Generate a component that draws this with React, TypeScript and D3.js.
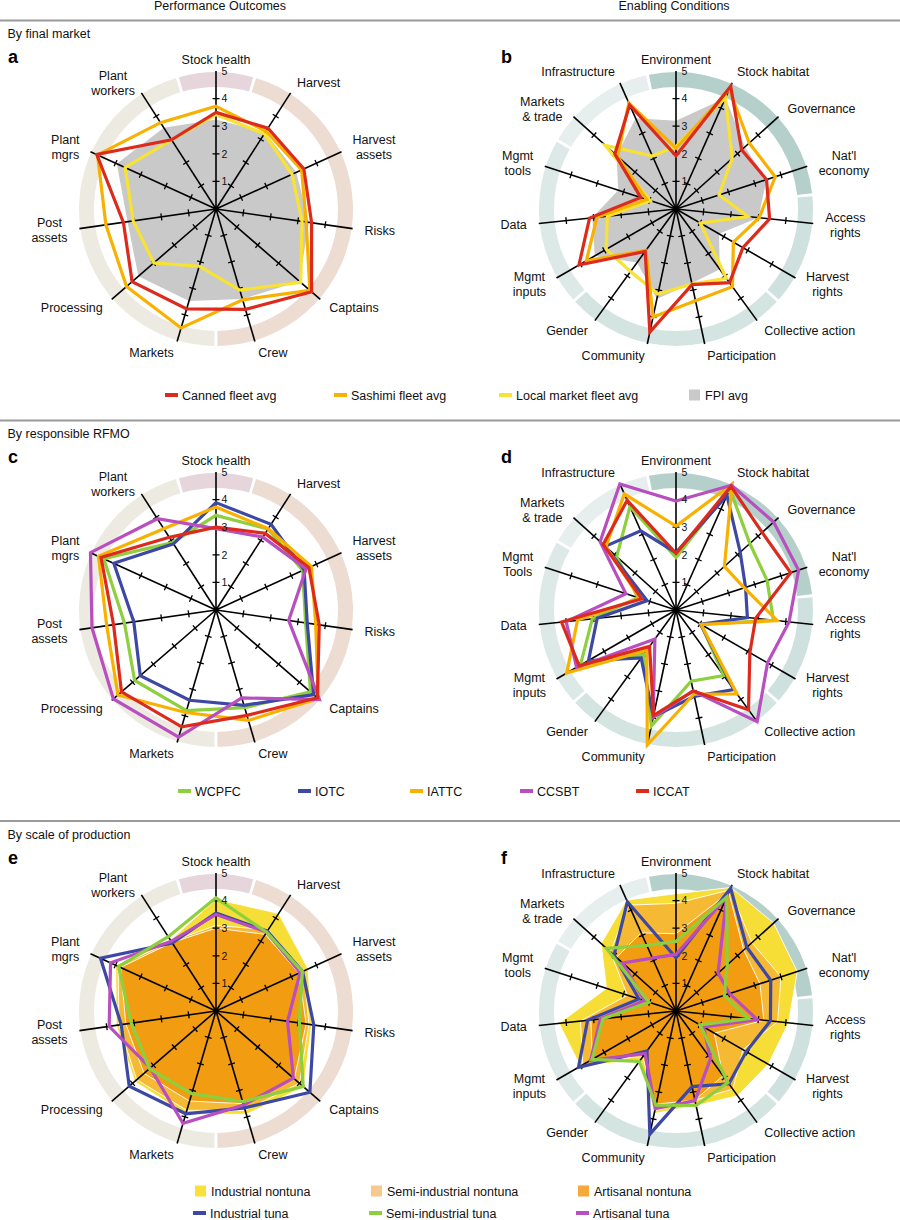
import React from "react";
import * as d3 from "d3";

// ---- axes ----
const outcomeAxes = ["Stock health", "Harvest", "Harvest\nassets", "Risks", "Captains", "Crew", "Markets", "Processing", "Post\nassets", "Plant\nmgrs", "Plant\nworkers"];
const conditionAxes = ["Environment", "Stock habitat", "Governance", "Nat'l\neconomy", "Access\nrights", "Harvest\nrights", "Collective action", "Participation", "Community", "Gender", "Mgmt\ninputs", "Data", "Mgmt\ntools", "Markets\n& trade", "Infrastructure"];
const conditionAxesD = conditionAxes.map((a) => (a === "Mgmt\ntools" ? "Mgmt\nTools" : a));

// ring groups, as ranges of axis indices
const outcomeGroups = [[0, 0], [1, 5], [6, 10]];
const conditionGroups = [[0, 3], [4, 5], [6, 9], [10, 12], [13, 14]];

// ---- a: by final market (outcomes) ----
const aCanned = [3.5, 3.48, 3.5, 3.5, 4.58, 3.79, 3.77, 4.02, 3.39, 4.75, 2.98];
const aSashimi = [3.72, 3.35, 3.41, 3.3, 4.5, 3.43, 4.49, 4.29, 4.03, 4.72, 3.72];
const aLocal = [3.42, 3.24, 3.03, 3.15, 4.06, 3.06, 2.16, 2.98, 3.03, 3.62, 2.98];
const aFpi = [3.24, 3.3, 3.2, 3.4, 4.0, 3.4, 3.47, 3.72, 3.24, 3.95, 3.5];

// ---- b: by final market (conditions) ----
const bCanned = [1.93, 4.87, 3.2, 3.45, 3.41, 2.8, 3.3, 2.8, 4.56, 1.9, 4.06, 3.15, 1.34, 2.98, 4.13];
const bSashimi = [2.2, 4.75, 3.57, 3.78, 3.03, 2.4, 3.48, 3.4, 4.0, 1.85, 3.75, 2.88, 1.12, 2.85, 4.2];
const bLocal = [2.27, 4.41, 2.74, 1.64, 2.62, 1.02, 3.1, 2.78, 3.15, 2.8, 2.92, 2.5, 0.98, 3.45, 2.1];
const bFpi = [3.2, 4.4, 3.36, 3.45, 3.0, 1.8, 2.7, 2.75, 3.33, 2.4, 3.4, 3.05, 2.2, 2.9, 3.6];

// ---- c: by RFMO (outcomes) ----
const cWcpfc = [3.43, 3.49, 3.45, 3.28, 4.53, 3.69, 3.8, 3.9, 3.35, 4.47, 2.91];
const cIotc = [3.89, 3.69, 3.51, 3.34, 4.68, 3.6, 3.41, 3.63, 3.01, 4.07, 2.85];
const cIattc = [3.73, 3.5, 3.8, 3.65, 4.9, 4.17, 3.87, 4.7, 4.0, 4.68, 3.5];
const cCcsbt = [2.95, 3.14, 3.59, 2.66, 4.96, 3.32, 4.8, 4.92, 4.54, 5.0, 3.93];
const cIccat = [3.0, 3.3, 3.7, 3.78, 4.86, 3.98, 4.41, 4.53, 3.75, 4.58, 3.13];

// ---- d: by RFMO (conditions) ----
const dWcpfc = [1.9, 4.8, 3.6, 3.47, 3.55, 1.05, 2.94, 2.64, 4.3, 2.0, 4.0, 3.05, 1.45, 2.89, 4.1];
const dIotc = [2.08, 4.54, 3.13, 2.65, 2.6, 1.03, 3.56, 3.2, 3.95, 2.15, 3.66, 2.87, 1.1, 3.45, 3.14];
const dIattc = [3.04, 5.0, 2.36, 2.6, 3.69, 1.05, 3.76, 3.12, 5.0, 1.8, 4.57, 3.59, 1.38, 3.42, 4.6];
const dCcsbt = [3.95, 4.95, 4.76, 4.67, 4.12, 3.83, 5.0, 3.0, 3.98, 1.3, 4.16, 4.0, 1.91, 3.7, 5.0];
const dIccat = [2.05, 4.9, 4.2, 4.37, 2.9, 3.09, 4.47, 3.0, 3.9, 1.63, 4.05, 4.17, 1.3, 3.55, 4.35];

// ---- e: by scale (outcomes) ----
const eIndNon = [4.05, 4.2, 3.67, 3.5, 4.2, 3.9, 3.9, 3.9, 3.65, 4.0, 3.05];
const eSemiNon = [3.1, 3.5, 3.5, 3.4, 4.0, 3.75, 3.75, 3.8, 3.55, 3.9, 3.0];
const eArtNon = [3.0, 3.3, 3.3, 3.3, 3.75, 3.5, 3.4, 3.45, 3.3, 3.8, 2.95];
const eIndTuna = [3.55, 3.44, 3.45, 3.58, 4.5, 3.66, 3.88, 4.16, 3.47, 4.6, 2.93];
const eSemiTuna = [4.1, 3.39, 3.44, 3.05, 4.18, 3.42, 3.12, 3.19, 3.1, 3.88, 3.2];
const eArtTuna = [3.5, 3.4, 3.35, 2.62, 3.71, 3.55, 4.24, 3.15, 3.91, 4.2, 3.0];

// ---- f: by scale (conditions) ----
const fIndNon = [4.25, 4.9, 4.76, 4.62, 4.1, 3.86, 3.8, 3.5, 3.8, 2.2, 4.0, 4.26, 2.65, 3.65, 4.4];
const fSemiNon = [3.9, 4.8, 3.7, 4.0, 3.7, 2.8, 3.5, 3.3, 3.7, 2.0, 3.9, 3.48, 1.85, 3.2, 4.2];
const fArtNon = [2.8, 4.7, 3.3, 3.2, 3.2, 1.6, 2.9, 3.3, 3.45, 2.05, 3.5, 3.1, 1.35, 2.9, 3.1];
const fIndTuna = [1.93, 4.87, 3.45, 3.61, 3.44, 2.94, 3.26, 2.8, 4.56, 1.79, 4.08, 3.22, 1.41, 3.02, 4.33];
const fSemiTuna = [2.52, 4.52, 2.5, 1.84, 2.64, 1.0, 3.2, 3.5, 3.49, 2.26, 3.51, 2.66, 1.03, 3.39, 2.6];
const fArtTuna = [2.05, 4.5, 2.05, 2.04, 2.96, 1.15, 2.13, 3.32, 3.62, 1.9, 3.57, 2.76, 1.2, 2.6, 2.1];

const tickValues = [1, 2, 3, 4, 5];

// ---- legend labels ----
const marketNames = ["Canned fleet avg", "Sashimi fleet avg", "Local market fleet avg", "FPI avg"];
const rfmoNames = ["WCPFC", "IOTC", "IATTC", "CCSBT", "ICCAT"];
const scaleFillNames = ["Industrial nontuna", "Semi-industrial nontuna", "Artisanal nontuna"];
const scaleLineNames = ["Industrial tuna", "Semi-industrial tuna", "Artisanal tuna"];

// ---- styles ----
const FONT = "'Liberation Sans', Arial, Helvetica, sans-serif";
const RED = "#dc2b1d";
const ORANGE = "#f9b100";
const YELLOW = "#f8e232";
const GRAY = "#c9c9c9";
const GREEN = "#8dcf3d";
const BLUE = "#3d48a4";
const PURPLE = "#b84ebf";
const IND_NON = "#f6de36";
const SEMI_NON = "#f5b934";
const ART_NON = "#f29c12";
const outcomeRing = ["#e6d6dc", "#eddcd1", "#edebe1"];
const conditionRing = ["#b5cfcb", "#cfe1de", "#d3e4e1", "#dde9e7", "#e6efee"];

const R5 = 138;
const LABEL_R = 150;
const rScale = d3.scaleLinear().domain([0, 5]).range([0, R5]);

let ctx: CanvasRenderingContext2D | null = null;
function measure(s: string, size: number) {
  if (!ctx) ctx = document.createElement("canvas").getContext("2d");
  if (!ctx) return s.length * size * 0.55;
  ctx.font = `${size}px "Liberation Sans"`;
  return ctx.measureText(s).width;
}

interface Series {
  values: number[];
  color: string;
}

interface RadarProps {
  cx: number;
  cy: number;
  axes: string[];
  groups: number[][];
  ringColors: string[];
  fills: Series[];
  fillStroke?: string;
  lines: Series[];
}

const Radar = ({ cx, cy, axes, groups, ringColors, fills, fillStroke, lines }: RadarProps) => {
  const n = axes.length;
  const angle = d3.scaleLinear().domain([0, n]).range([0, 2 * Math.PI]);
  const radial = d3
    .lineRadial<number>()
    .angle((_, i) => angle(i))
    .radius((d) => rScale(d))
    .curve(d3.curveLinearClosed);
  const arc = d3.arc();
  const gap = 0.011;

  let ticks = "";
  axes.forEach((_, i) => {
    const a = angle(i);
    const s = Math.sin(a);
    const c = Math.cos(a);
    [1, 2, 3, 4].forEach((v) => {
      const r = rScale(v);
      const x = s * r;
      const y = -c * r;
      ticks += `M${x - c * 3.5},${y - s * 3.5}L${x + c * 3.5},${y + s * 3.5}`;
    });
  });

  return (
    <g transform={`translate(${cx},${cy})`}>
      {groups.map(([from, to], gi) => (
        <path
          key={"ring" + gi}
          d={
            arc({
              innerRadius: 122,
              outerRadius: 137,
              startAngle: angle(from - 0.5) + gap,
              endAngle: angle(to + 0.5) - gap,
            } as any) || ""
          }
          fill={ringColors[gi]}
        />
      ))}
      {fills.map((f, i) => (
        <path key={"fill" + i} d={radial(f.values) || ""} fill={f.color} stroke={fillStroke || "none"} strokeWidth={0.9} />
      ))}
      {axes.map((_, i) => {
        const a = angle(i);
        return (
          <line
            key={"ax" + i}
            x1={0}
            y1={0}
            x2={Math.sin(a) * R5}
            y2={-Math.cos(a) * R5}
            stroke="#000"
            strokeWidth={1.6}
          />
        );
      })}
      <path d={ticks} stroke="#000" strokeWidth={1.3} fill="none" />
      {lines.map((l, i) => (
        <path
          key={"line" + i}
          d={radial(l.values) || ""}
          fill="none"
          stroke={l.color}
          strokeWidth={3.2}
          strokeLinejoin="miter"
        />
      ))}
      <circle r={2.6} fill="#000" />
      {tickValues.map((v) => (
        <text key={"t" + v} x={5.5} y={-rScale(v) + 3.7} fontSize={10.5} fill="#111">
          {v}
        </text>
      ))}
      {axes.map((label, i) => {
        const a = angle(i);
        const s = Math.sin(a);
        const c = Math.cos(a);
        const parts = label.split("\n");
        const w = Math.max(...parts.map((p) => measure(p, 12.5)));
        const px = s * LABEL_R;
        const py = -c * LABEL_R;
        const bx = Math.abs(s) < 0.15 ? px : s > 0 ? px + w / 2 : px - w / 2;
        const y0 = py - (parts.length - 1) * 7.5 + 4.5;
        return (
          <text key={"lab" + i} fontSize={12.5} fill="#111" textAnchor="middle">
            {parts.map((p, j) => (
              <tspan key={j} x={bx} y={y0 + j * 15}>
                {p}
              </tspan>
            ))}
          </text>
        );
      })}
    </g>
  );
};

const LegendLine = ({ x, y, color, label }: { x: number; y: number; color: string; label: string }) => (
  <g>
    <line x1={x} x2={x + 13} y1={y} y2={y} stroke={color} strokeWidth={4} />
    <text x={x + 17} y={y + 4.5} fontSize={12.5} fill="#111">
      {label}
    </text>
  </g>
);

const LegendBox = ({ x, y, color, label }: { x: number; y: number; color: string; label: string }) => (
  <g>
    <rect x={x} y={y - 5.5} width={11} height={11} fill={color} />
    <text x={x + 16} y={y + 4.5} fontSize={12.5} fill="#111">
      {label}
    </text>
  </g>
);

// layout
const LEFT_CX = 216;
const RIGHT_CX = 676;
const ROW_CY = [209, 610, 1011];
const SEP_Y = [20.5, 420.5, 821];
const SECTION_TITLES = ["By final market", "By responsible RFMO", "By scale of production"];
const PANEL_LETTERS = [["a", "b"], ["c", "d"], ["e", "f"]];
const legend1X = [165, 334, 499, 689];
const legend2X = [178, 298, 410, 520, 636];
const legend3X = [195, 371, 578];

export default function App() {
  const marketLines = [YELLOW, ORANGE, RED];
  const rfmoColors = [GREEN, BLUE, ORANGE, PURPLE, RED];
  const scaleLineColors = [BLUE, GREEN, PURPLE];
  const scaleFillColors = [IND_NON, SEMI_NON, ART_NON];
  const legendFillColors = ["#f7e13a", "#f8c98c", "#f4a93a"];

  return (
    <div style={{ position: "absolute", left: 0, top: 0 }}>
      <svg width={900} height={1220} style={{ display: "block", background: "#fff", fontFamily: FONT }}>
        <text x={220} y={9.5} fontSize={12.5} textAnchor="middle" fill="#111">
          Performance Outcomes
        </text>
        <text x={674} y={9.5} fontSize={12.5} textAnchor="middle" fill="#111">
          Enabling Conditions
        </text>
        {SEP_Y.map((y, i) => (
          <g key={"sec" + i}>
            <line x1={0} x2={900} y1={y} y2={y} stroke="#9a9a9a" strokeWidth={1.8} />
            <text x={7.5} y={y + 17.5} fontSize={12.5} fill="#111">
              {SECTION_TITLES[i]}
            </text>
            <text x={8} y={y + 42.5} fontSize={18} fontWeight="bold" fill="#000">
              {PANEL_LETTERS[i][0]}
            </text>
            <text x={501} y={y + 42.5} fontSize={18} fontWeight="bold" fill="#000">
              {PANEL_LETTERS[i][1]}
            </text>
          </g>
        ))}

        {/* row 1 */}
        <Radar
          cx={LEFT_CX}
          cy={ROW_CY[0]}
          axes={outcomeAxes}
          groups={outcomeGroups}
          ringColors={outcomeRing}
          fills={[{ values: aFpi, color: GRAY }]}
          lines={[aLocal, aSashimi, aCanned].map((v, i) => ({ values: v, color: marketLines[i] }))}
        />
        <Radar
          cx={RIGHT_CX}
          cy={ROW_CY[0]}
          axes={conditionAxes}
          groups={conditionGroups}
          ringColors={conditionRing}
          fills={[{ values: bFpi, color: GRAY }]}
          lines={[bLocal, bSashimi, bCanned].map((v, i) => ({ values: v, color: marketLines[i] }))}
        />
        {marketNames.map((name, i) =>
          i < 3 ? (
            <LegendLine key={name} x={legend1X[i]} y={395} color={[RED, ORANGE, YELLOW][i]} label={name} />
          ) : (
            <LegendBox key={name} x={legend1X[i]} y={395} color={GRAY} label={name} />
          )
        )}

        {/* row 2 */}
        <Radar
          cx={LEFT_CX}
          cy={ROW_CY[1]}
          axes={outcomeAxes}
          groups={outcomeGroups}
          ringColors={outcomeRing}
          fills={[]}
          lines={[cWcpfc, cIotc, cIattc, cCcsbt, cIccat].map((v, i) => ({ values: v, color: rfmoColors[i] }))}
        />
        <Radar
          cx={RIGHT_CX}
          cy={ROW_CY[1]}
          axes={conditionAxesD}
          groups={conditionGroups}
          ringColors={conditionRing}
          fills={[]}
          lines={[dWcpfc, dIotc, dIattc, dCcsbt, dIccat].map((v, i) => ({ values: v, color: rfmoColors[i] }))}
        />
        {rfmoNames.map((name, i) => (
          <LegendLine key={name} x={legend2X[i]} y={791} color={rfmoColors[i]} label={name} />
        ))}

        {/* row 3 */}
        <Radar
          cx={LEFT_CX}
          cy={ROW_CY[2]}
          axes={outcomeAxes}
          groups={outcomeGroups}
          ringColors={outcomeRing}
          fills={[eIndNon, eSemiNon, eArtNon].map((v, i) => ({ values: v, color: scaleFillColors[i] }))}
          fillStroke="#fff"
          lines={[eIndTuna, eArtTuna, eSemiTuna].map((v, i) => ({ values: v, color: [BLUE, PURPLE, GREEN][i] }))}
        />
        <Radar
          cx={RIGHT_CX}
          cy={ROW_CY[2]}
          axes={conditionAxes}
          groups={conditionGroups}
          ringColors={conditionRing}
          fills={[fIndNon, fSemiNon, fArtNon].map((v, i) => ({ values: v, color: scaleFillColors[i] }))}
          fillStroke="#fff"
          lines={[fIndTuna, fArtTuna, fSemiTuna].map((v, i) => ({ values: v, color: [BLUE, PURPLE, GREEN][i] }))}
        />
        {scaleFillNames.map((name, i) => (
          <LegendBox key={name} x={legend3X[i]} y={1191} color={legendFillColors[i]} label={name} />
        ))}
        {scaleLineNames.map((name, i) => (
          <LegendLine key={name} x={legend3X[i] - 2} y={1213} color={scaleLineColors[i]} label={name} />
        ))}
      </svg>
    </div>
  );
}
